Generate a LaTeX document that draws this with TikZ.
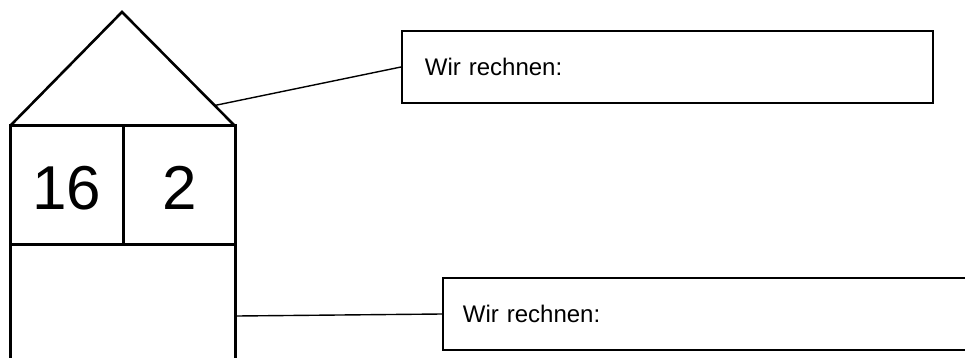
\documentclass[tikz,border=0pt]{standalone}
\usepackage{fontspec}
\setmainfont{Liberation Sans}
\usetikzlibrary{calc}
\begin{document}
\begin{tikzpicture}[x=1pt,y=-1pt,
  house/.style={line width=3pt,line join=miter},
  roof/.style={line width=2.6pt,line join=miter},
  note/.style={draw,line width=1.8pt,minimum height=72pt,inner sep=0pt,text width=#1,font=\fontsize{24}{28}\selectfont,align=left},
  link/.style={line width=1.4pt},
  num/.style={font=\fontsize{62}{70}\selectfont,inner sep=0pt}]
\useasboundingbox (0,0) rectangle (965,358);
% house
\coordinate (apex) at (122,12);
\coordinate (rl) at (10,126);
\coordinate (rr) at (235,126);
\coordinate (mt) at (123,126);
\coordinate (ml) at (10,244);
\coordinate (mr) at (235,244);
\coordinate (mm) at (123,244);
\coordinate (bl) at (10,360);
\coordinate (br) at (235,360);
\draw[roof] (rl) -- (apex) -- (rr);
\draw[house] (bl) -- (rl) -- (rr) -- (br);
\draw[house] (ml) -- (mr);
\draw[house] (mt) -- (mm);
\node[num] (n16) at (67,188) {16};
\node[num] (n2) at (180,188) {2};
% notes
\node[note=485pt,minimum width=531pt,anchor=west,inner xsep=22pt] (box1) at (401,67) {Wir rechnen:};
\node[note=500pt,minimum width=526pt,anchor=west,inner xsep=20pt] (box2) at (442,314) {Wir rechnen:};
\coordinate (r1) at ($(apex)!0.82!(rr)$);
\coordinate (w1) at (237,316);
\draw[link] (r1) -- (box1.west);
\draw[link] (w1) -- (box2.west);
\end{tikzpicture}
\end{document}
